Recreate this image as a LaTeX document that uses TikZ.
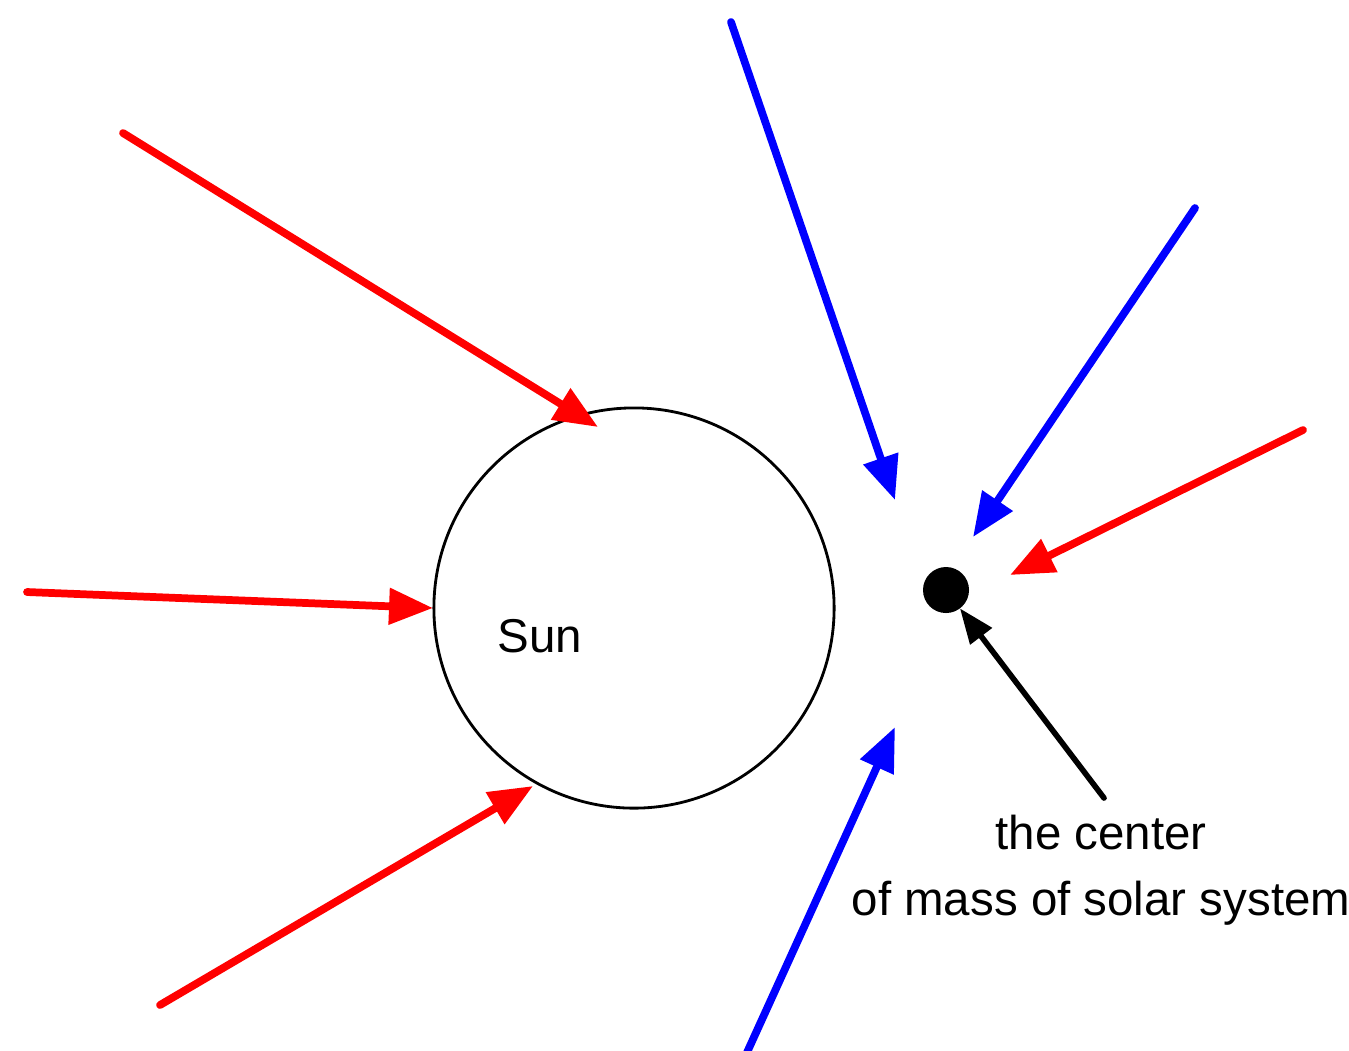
\documentclass[tikz,border=0pt]{standalone}
\usepackage{fontspec}
\setmainfont{Liberation Sans}
\usetikzlibrary{arrows.meta}
\tikzset{
  % bodies
  sunbody/.style={circle, draw=black, line width=0.8pt, minimum size=4cm,
    inner sep=0pt, outer sep=0pt},
  massdot/.style={circle, fill=black, minimum size=0.46cm, inner sep=0pt, outer sep=0pt},
  % arrows
  forcearrow/.style={-{Triangle[length=12.5pt, width=10pt]}, line width=2.2pt, #1},
  forcearrow/.default={red},
  pointer/.style={-{Triangle[length=10pt, width=7.5pt]}, line width=1.6pt, black},
  % labels
  caption/.style={font=\fontsize{13.5}{19}\selectfont, align=center, inner sep=0pt},
}
\begin{document}
\begin{tikzpicture}[x=0.01cm, y=-0.01cm]
  \useasboundingbox (0,0) rectangle (1349,1050);

  % Sun and centre of mass
  \node[sunbody] (sun) at (634,608) {};
  \node[font=\fontsize{13.5}{16}\selectfont] (sunlabel) at (540,636) {Sun};
  \node[massdot] (com) at (946,590) {};

  % free ends of the arrows
  \coordinate (r1s) at (123,133);  \coordinate (r1e) at (598,427);
  \coordinate (r2s) at (27,592);   \coordinate (r2e) at (433,608);
  \coordinate (r3s) at (160,1005); \coordinate (r3e) at (533,786);
  \coordinate (r4s) at (1303,430); \coordinate (r4e) at (1010,575);
  \coordinate (b1s) at (731,22);   \coordinate (b1e) at (895,500);
  \coordinate (b2s) at (1195,208); \coordinate (b2e) at (973,537);
  \coordinate (b3s) at (739,1070); \coordinate (b3e) at (895,727);

  % red arrows
  \draw[forcearrow, line cap=round] (r1s) -- (r1e);
  \draw[forcearrow, line cap=round] (r2s) -- (r2e);
  \draw[forcearrow, line cap=round] (r3s) -- (r3e);
  \draw[forcearrow, line cap=round] (r4s) -- (r4e);

  % blue arrows
  \draw[forcearrow=blue, line cap=round] (b1s) -- (b1e);
  \draw[forcearrow=blue, line cap=round] (b2s) -- (b2e);
  \draw[forcearrow=blue, line cap=round] (b3s) -- (b3e);

  % label of the centre of mass
  \node[caption, anchor=north] (comlabel) at (1101,814) {the center\\of mass of solar system};
  \coordinate (ptr) at (1104,798);
  \draw[pointer, line cap=round] (ptr) -- (com);
\end{tikzpicture}
\end{document}
